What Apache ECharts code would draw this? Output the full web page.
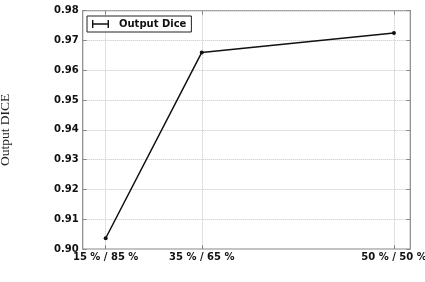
<!DOCTYPE html>
<html>
<head>
<meta charset="utf-8">
<script src="https://cdn.jsdelivr.net/npm/echarts@6/dist/echarts.min.js"></script>
<style>html,body{margin:0;padding:0;background:#fff;}#c{width:425px;height:282px;}</style>
</head>
<body>
<div id="c"></div>
<script>
var categories = ['15 % / 85 %', '35 % / 65 %', '50 % / 50 %'];
var xPositions = [1, 2, 4];
var outputDice = [0.9036, 0.9660, 0.9725];
var seriesName = 'Output Dice';
var yAxisName = 'Output DICE';

var chart = echarts.init(document.getElementById('c'), null, {renderer: 'canvas'});
var data = xPositions.map(function (x, i) { return [x, outputDice[i]]; });
var labelFont = {fontFamily: 'DejaVu Sans', fontWeight: 'bold', fontSize: 10, color: '#111'};
var frame = '#888';
chart.setOption({
  animation: false,
  backgroundColor: '#fff',
  grid: {left: 82.7, right: 14.7, top: 10.7, bottom: 33, containLabel: false, outerBoundsMode: 'none', show: true, borderColor: frame, borderWidth: 1.2, backgroundColor: 'transparent'},
  legend: {
    left: 87, top: 16,
    padding: [3, 5, 3, 5],
    borderColor: '#222', borderWidth: 1, backgroundColor: '#fff',
    itemWidth: 17, itemHeight: 8,
    icon: 'path://M0,3.3h17v1.4h-17z M0,0h1.4v8h-1.4z M15.6,0h1.4v8h-1.4z',
    textStyle: {fontFamily: 'DejaVu Sans', fontWeight: 'bold', fontSize: 10, color: '#111', padding: [0, 0, 0, 5]},
    data: [seriesName]
  },
  xAxis: [{
    type: 'value', min: 0.761, max: 4.17, position: 'bottom',
    axisLine: {show: false},
    axisTick: {show: true, inside: true, length: 4, lineStyle: {color: frame}, customValues: xPositions},
    axisLabel: Object.assign({margin: 3, customValues: xPositions, formatter: function (v) {
      var i = xPositions.indexOf(v); return i >= 0 ? categories[i] : '';
    }}, labelFont),
    splitLine: {show: true, lineStyle: {type: 'dotted', color: '#c4c4c4', width: 1}}
  }, {
    type: 'value', min: 0.761, max: 4.17, position: 'top',
    axisLine: {show: false},
    axisTick: {show: true, inside: true, length: 4, lineStyle: {color: frame}, customValues: xPositions},
    axisLabel: {show: false, customValues: xPositions},
    splitLine: {show: false}
  }],
  yAxis: [{
    type: 'value', min: 0.90, max: 0.98, interval: 0.01, position: 'left',
    name: yAxisName, nameLocation: 'middle', nameRotate: 90, nameGap: 70,
    nameTextStyle: {fontFamily: 'Liberation Serif', fontSize: 13.5, color: '#222'},
    axisLine: {show: false},
    axisTick: {show: true, inside: true, length: 4, lineStyle: {color: frame}},
    axisLabel: Object.assign({margin: 4, formatter: function (v) { return v.toFixed(2); }}, labelFont),
    splitLine: {show: true, lineStyle: {type: 'dotted', color: '#c4c4c4', width: 1}}
  }, {
    type: 'value', min: 0.90, max: 0.98, interval: 0.01, position: 'right',
    axisLine: {show: false},
    axisTick: {show: true, inside: true, length: 4, lineStyle: {color: frame}},
    axisLabel: {show: false},
    splitLine: {show: false}
  }],
  series: [{
    name: seriesName, type: 'line', xAxisIndex: 0, yAxisIndex: 0,
    data: data,
    symbol: 'circle', symbolSize: 4, showSymbol: true,
    lineStyle: {color: '#111', width: 1.5},
    itemStyle: {color: '#111'}
  }]
});
</script>
</body>
</html>
